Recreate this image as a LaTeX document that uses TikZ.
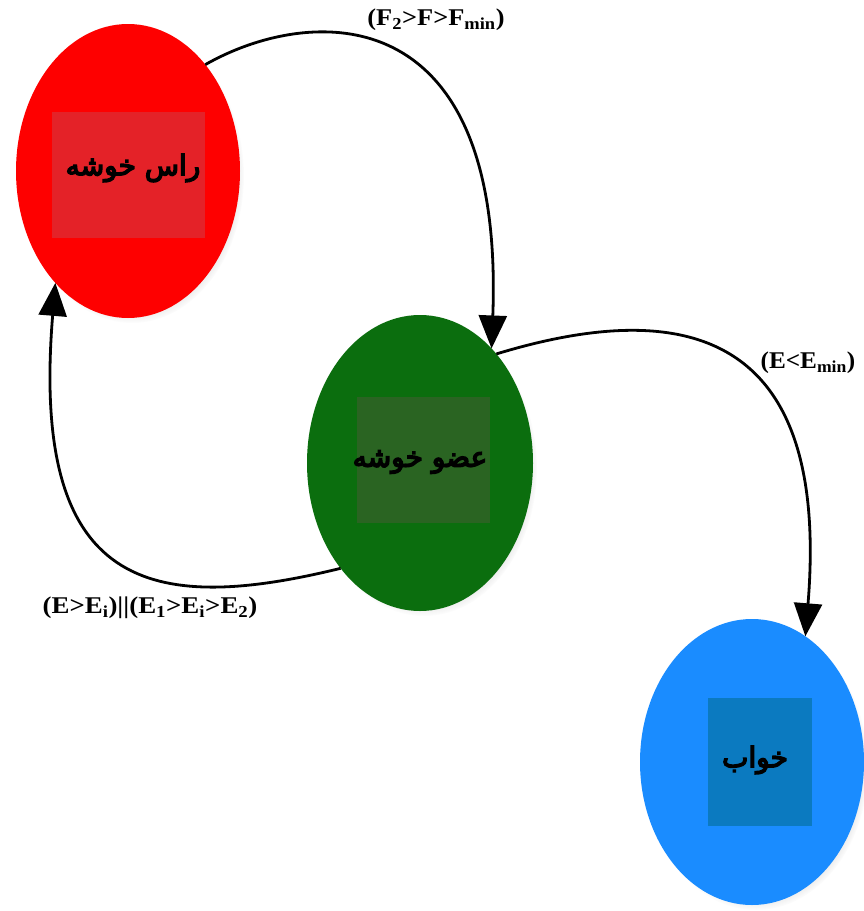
\documentclass[tikz,border=0pt]{standalone}
\usepackage{fontspec}
\setmainfont{Liberation Serif}
\newfontfamily\arabicfont[Script=Arabic,FakeBold=5]{DejaVu Sans}
\TeXXeTstate=1
\usetikzlibrary{arrows.meta,shapes.geometric,shadows}
\definecolor{cRed}{HTML}{FE0000}
\definecolor{cRedBox}{HTML}{E42228}
\definecolor{cGreen}{HTML}{0B6E0E}
\definecolor{cGreenBox}{HTML}{2A6422}
\definecolor{cBlue}{HTML}{1A8CFF}
\definecolor{cBlueBox}{HTML}{0B7AC0}
\tikzset{
  state/.style={ellipse, draw=none, inner sep=0pt, outer sep=0pt,
    circular drop shadow={shadow xshift=4pt, shadow yshift=-5pt, opacity=0.35, shadow scale=1.0}},
  box/.style={rectangle, draw=none, inner sep=0pt, outer sep=0pt,
    font=\arabicfont\fontsize{28}{30}\selectfont},
  arr/.style={line width=2.8pt, -{Triangle[length=33pt,width=28pt]}},
  lab/.style={font=\bfseries\fontsize{24}{26}\selectfont, inner sep=0pt}
}
\begin{document}
\begin{tikzpicture}[x=1pt,y=-1pt]
\useasboundingbox[fill=white] (0,0) rectangle (864,911);
% states
\node[state, fill=cRed, minimum width=224pt, minimum height=294pt] (head) at (128,171) {};
\node[state, fill=cGreen, minimum width=226pt, minimum height=296pt] (member) at (420,463) {};
\node[state, fill=cBlue, minimum width=224pt, minimum height=286pt] (sleep) at (752,762) {};
% inner boxes
\node[box, fill=cRedBox, minimum width=153pt, minimum height=126pt] (headbox) at (128.5,175) {};
\node[box, fill=cGreenBox, minimum width=133pt, minimum height=126pt] (memberbox) at (423.5,460) {};
\node[box, fill=cBlueBox, minimum width=104pt, minimum height=128pt] (sleepbox) at (760,762) {};
\node[box] (headtxt) at (133,168) {\beginR راس خوشه\endR};
\node[box] (membertxt) at (420,462) {\beginR عضو خوشه\endR};
\node[box] (sleeptxt) at (755,760) {\beginR خواب\endR};
% connectors
\draw[arr] (head.54) .. controls (310,5) and (505,-5) .. (member.58.7);
\draw[arr] (member.55) .. controls (690,295) and (830,335) .. (sleep.67.7);
\draw[arr] (member.233) .. controls (150,615) and (30,590) .. (head.237.8);
% labels
\node[lab, xscale=1.1] (l1) at (436,20) {(F\textsubscript{2}>F>F\textsubscript{min})};
\node[lab, xscale=1.05] (l2) at (808,363) {(E<E\textsubscript{min})};
\node[lab, xscale=1.12] (l3) at (150,608) {(E>E\textsubscript{i})||(E\textsubscript{1}>E\textsubscript{i}>E\textsubscript{2})};
\end{tikzpicture}
\end{document}
